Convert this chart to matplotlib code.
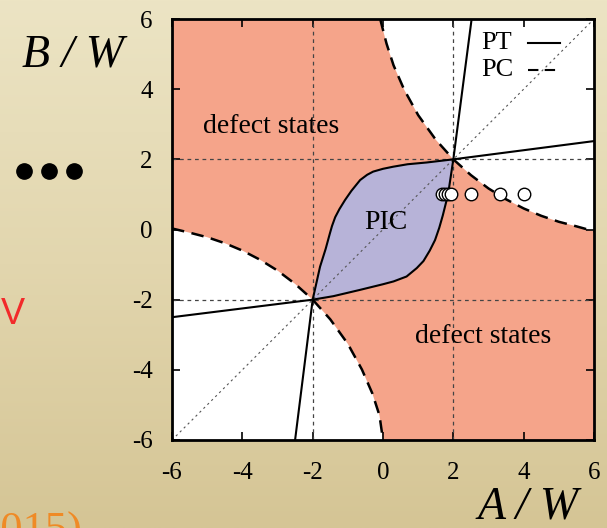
import matplotlib.pyplot as plt
import numpy as np
from matplotlib.lines import Line2D
from matplotlib.colors import LinearSegmentedColormap

plt.rcParams['axes.unicode_minus'] = False

# PC threshold (dashed), upper-right and lower-left branches
pc_up_a = [-0.08, 0.1, 0.3, 0.6, 1.0, 1.5, 2.0, 2.5, 3.0, 3.5, 4.0, 4.5, 5.0, 5.5, 6.0]
pc_up_b = [6.0, 5.3, 4.68, 3.99, 3.26, 2.56, 2.0, 1.55, 1.17, 0.86, 0.60, 0.39, 0.22, 0.09, -0.05]
pc_lo_a = [-6.0, -5.5, -5.0, -4.5, -4.0, -3.5, -3.0, -2.5, -2.0, -1.5, -1.0, -0.6, -0.3, -0.1, 0.0]
pc_lo_b = [0.03, -0.09, -0.22, -0.39, -0.60, -0.86, -1.17, -1.55, -2.0, -2.56, -3.26, -3.99, -4.68, -5.3, -6.0]

# PT threshold (solid); curve 1 runs top -> (2,2) -> lower-right edge of PIC -> (-2,-2) -> left edge
pt1_a = [2.52, 2.26, 2.0, 1.88, 1.8, 1.7, 1.6, 1.48, 1.33, 1.15, 0.96, 0.67, 0.3, 0.0,
         -0.65, -1.41, -2.0, -4.0, -6.0]
pt1_b = [6.0, 4.0, 2.0, 1.2, 0.8, 0.4, 0.05, -0.3, -0.6, -0.9, -1.1, -1.34, -1.48, -1.56,
         -1.72, -1.9, -2.0, -2.25, -2.5]
# curve 2 runs right edge -> (2,2) -> upper-left edge of PIC -> (-2,-2) -> bottom edge
pt2_a = [6.0, 4.0, 2.0, 1.24, 0.7, 0.29, 0.0, -0.28, -0.45, -0.65, -0.9, -1.08, -1.24,
         -1.36, -1.45, -1.51, -1.63, -1.79, -2.0, -2.25, -2.5]
pt2_b = [2.52, 2.26, 2.0, 1.91, 1.86, 1.79, 1.73, 1.65, 1.56, 1.41, 1.1, 0.84, 0.58,
         0.35, 0.1, -0.11, -0.55, -1.06, -2.0, -4.0, -6.0]

# open circles at B/W = 1
dots_a = [1.67, 1.76, 1.86, 1.92, 2.49, 3.33, 4.0]
dots_b = [1, 1, 1, 1, 1, 1, 1]

ticks = [-6, -4, -2, 0, 2, 4, 6]
grid_pos = [-2, 2]

salmon = '#f5a48a'
lilac = '#b7b3d8'
serif = ['Liberation Serif', 'DejaVu Serif']

fig = plt.figure(figsize=(6.07, 5.28), dpi=100)

# slide background
bg = fig.add_axes([0, 0, 1, 1], zorder=-10)
grad = np.linspace(0, 1, 256).reshape(-1, 1)
cm = LinearSegmentedColormap.from_list('parch', ['#ece4c4', '#e2d6ae', '#d5c595'])
bg.imshow(grad, aspect='auto', cmap=cm, extent=[0, 1, 0, 1], origin='upper')
bg.axis('off')

ax = fig.add_axes([172 / 607, 88 / 528, 422 / 607, 421 / 528])
ax.set_facecolor('white')
ax.set_xlim(-6, 6)
ax.set_ylim(-6, 6)

# salmon area between the two PC branches
ax.fill([-6.0] + pc_up_a + [6.0, 0.0] + pc_lo_a[::-1][1:] + [-6.0],
        [6.0] + pc_up_b + [-6.0, -6.0] + pc_lo_b[::-1][1:] + [0.03],
        color=salmon, lw=0, zorder=1)

# PIC region between the PT curves (the parts between (2,2) and (-2,-2))
k1 = slice(pt1_a.index(2.0), pt1_a.index(-2.0) + 1)
k2 = slice(pt2_a.index(2.0), pt2_a.index(-2.0) + 1)
ax.fill(pt1_a[k1] + pt2_a[k2][::-1], pt1_b[k1] + pt2_b[k2][::-1],
        color=lilac, lw=0, zorder=2)

for g in grid_pos:
    ax.axvline(g, color='#444444', lw=0.9, ls=(0, (3, 3)), zorder=3)
    ax.axhline(g, color='#444444', lw=0.9, ls=(0, (3, 3)), zorder=3)
ax.plot([-6, 6], [-6, 6], color='#555555', lw=0.8, ls=(0, (2, 3)), zorder=3)

ax.plot(pc_up_a, pc_up_b, color='black', lw=1.8, ls=(0, (5, 3)), zorder=4)
ax.plot(pc_lo_a, pc_lo_b, color='black', lw=1.8, ls=(0, (5, 3)), zorder=4)
ax.plot(pt1_a, pt1_b, color='black', lw=1.5, zorder=4)
ax.plot(pt2_a, pt2_b, color='black', lw=1.5, zorder=4)

ax.plot(dots_a, dots_b, 'o', ms=9, mfc='white', mec='black', mew=1, zorder=5)

ax.text(-3.18, 2.95, 'defect states', family=serif, fontsize=20, ha='center', va='center', zorder=6)
ax.text(2.86, -3.05, 'defect states', family=serif, fontsize=20, ha='center', va='center', zorder=6)
ax.text(0.08, 0.2, 'PIC', family=serif, fontsize=20, ha='center', va='center', zorder=6)

# legend
ax.text(3.24, 5.31, 'PT', family=serif, fontsize=19, ha='center', va='center', zorder=6)
ax.text(3.24, 4.54, 'PC', family=serif, fontsize=19, ha='center', va='center', zorder=6)
ax.plot([4.12, 5.03], [5.31, 5.31], color='black', lw=1.5, zorder=6)
ax.plot([4.12, 5.03], [4.54, 4.54], color='black', lw=1.5, ls=(0, (5, 3)), zorder=6)

ax.set_xticks(ticks)
ax.set_yticks(ticks)
ax.tick_params(direction='in', top=True, right=True, length=6, width=1.2, labelsize=18)
ax.tick_params(axis='x', pad=16)
ax.tick_params(axis='y', pad=14)
for lab in ax.get_xticklabels() + ax.get_yticklabels():
    lab.set_family(serif)
for s in ax.spines.values():
    s.set_linewidth(2)
    s.set_zorder(7)

# slide decorations around the chart
fig.text(73 / 607, 1 - 55 / 528, 'B / W', family=serif, style='italic', fontsize=33, ha='center', va='center')
fig.text(528 / 607, 1 - 507 / 528, 'A / W', family=serif, style='italic', fontsize=33, ha='center', va='center')
fig.add_artist(Line2D([24 / 607, 49 / 607, 74 / 607], [1 - 171 / 528] * 3, ls='none', marker='o',
                      ms=11, color='black', transform=fig.transFigure))
fig.text(1 / 607, 1 - 314 / 528, 'V', family=['Liberation Sans Narrow', 'Liberation Sans'], fontsize=26,
         color='#f22a2a', ha='left', va='center')
fig.text(82 / 607, 1 - 543 / 528, '(2015)', family=serif, fontsize=32, color='#ef8a26', ha='right', va='baseline')

plt.savefig('out.png', dpi=100)
